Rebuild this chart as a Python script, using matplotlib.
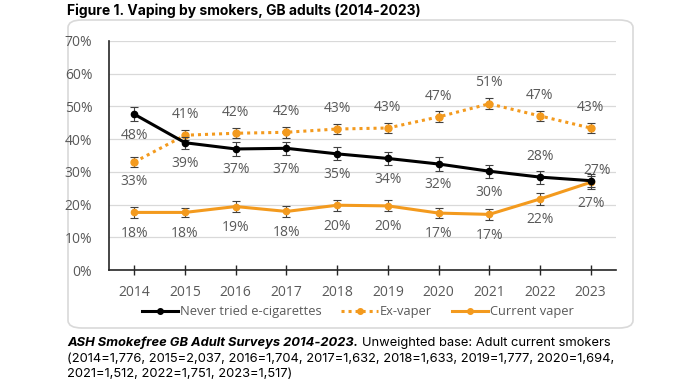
import matplotlib.pyplot as plt
from matplotlib.patches import FancyBboxPatch
from matplotlib.lines import Line2D
import numpy as np

years = ['2014', '2015', '2016', '2017', '2018', '2019', '2020', '2021', '2022', '2023']
never_tried = [47.6, 38.9, 37.0, 37.2, 35.5, 34.1, 32.4, 30.2, 28.4, 27.3]
ex_vaper = [33.0, 41.2, 41.8, 42.1, 43.1, 43.4, 46.8, 50.8, 47.1, 43.4]
current_vaper = [17.6, 17.6, 19.4, 17.9, 19.8, 19.6, 17.4, 17.0, 21.7, 26.8]
never_err = [2.1, 1.9, 2.0, 2.0, 2.0, 2.0, 2.0, 2.0, 2.0, 2.0]
ex_err = [1.5, 1.5, 1.6, 1.6, 1.6, 1.6, 1.7, 1.7, 1.6, 1.6]
cur_err = [1.6, 1.5, 1.7, 1.6, 1.7, 1.7, 1.6, 1.6, 1.7, 1.9]

never_lbl = ['48%', '39%', '37%', '37%', '35%', '34%', '32%', '30%', '28%', '27%']
ex_lbl = ['33%', '41%', '42%', '42%', '43%', '43%', '47%', '51%', '47%', '43%']
cur_lbl = ['18%', '18%', '19%', '18%', '20%', '20%', '17%', '17%', '22%', '27%']
series_names = ['Never tried e-cigarettes', 'Ex-vaper', 'Current vaper']

orange = '#F39A1E'
gray_txt = '#595959'
plt.rcParams['font.family'] = ['Open Sans', 'DejaVu Sans']

fig = plt.figure(figsize=(7, 3.8), dpi=100)
# rounded frame behind the chart
box = FancyBboxPatch((68 / 700, 1 - 328 / 380), (633 - 68) / 700, (328 - 20) / 380,
                     boxstyle='round,pad=0,rounding_size=0.02', transform=fig.transFigure,
                     fc='white', ec='#D9D9D9', lw=1.2, zorder=0)
fig.patches.append(box)

ax = fig.add_axes([109 / 700, 1 - 270 / 380, (616 - 109) / 700, (270 - 41) / 380])
ax.set_zorder(2)
ax.patch.set_alpha(0)
x = np.arange(len(years))

err_kw = dict(ecolor='#404040', elinewidth=0.8, capsize=3, capthick=0.8)
ax.errorbar(x, never_tried, yerr=never_err, color='black', lw=2.2, marker='o', ms=4.5,
            zorder=4, **err_kw)
ax.errorbar(x, ex_vaper, yerr=ex_err, color=orange, lw=2.2, ls=(0, (1, 1.3)), marker='o', ms=5,
            zorder=3, **err_kw)
ax.errorbar(x, current_vaper, yerr=cur_err, color=orange, lw=2.2, marker='o', ms=4.5,
            zorder=3, **err_kw)

lbl_kw = dict(ha='center', va='center', fontsize=10, color=gray_txt, textcoords='offset points')
for i in range(len(years)):
    # never tried: below, except the last two
    if i == 8:
        off = (0, 15)
    elif i == 9:
        off = (5, 7)
    else:
        off = (0, -15)
    ax.annotate(never_lbl[i], (x[i], never_tried[i]), xytext=off, **lbl_kw)
    dy = -14 if i == 0 else 15
    ax.annotate(ex_lbl[i], (x[i], ex_vaper[i]), xytext=(0, dy), **lbl_kw)
    ax.annotate(cur_lbl[i], (x[i], current_vaper[i]), xytext=(0, -15), **lbl_kw)

ax.set_xlim(-0.5, len(years) - 0.5)
ax.set_ylim(0, 70)
ax.set_yticks(np.arange(0, 71, 10))
ax.set_yticklabels([f'{v}%' for v in range(0, 71, 10)])
ax.set_xticks(x)
ax.set_xticklabels(years)
ax.yaxis.grid(True, color='#D9D9D9', lw=0.9)
ax.set_axisbelow(True)
for s in ['top', 'right']:
    ax.spines[s].set_visible(False)
for s in ['left', 'bottom']:
    ax.spines[s].set_color('#262626')
    ax.spines[s].set_linewidth(1.2)
ax.tick_params(axis='y', length=0, labelsize=10, labelcolor=gray_txt, pad=12)
ax.tick_params(axis='x', direction='inout', length=7, width=1, color='#262626',
               labelsize=10, labelcolor=gray_txt, pad=7)

handles = [
    Line2D([], [], color='black', lw=2.2, marker='o', ms=4),
    Line2D([], [], color=orange, lw=2.2, ls=(0, (1, 1.3)), marker='o', ms=4),
    Line2D([], [], color=orange, lw=2.2, marker='o', ms=4),
]
fig.legend(handles, series_names, loc='center', bbox_to_anchor=(358 / 700, 1 - 312 / 380),
           ncol=3, frameon=False, fontsize=9.3, labelcolor=gray_txt, handlelength=2.8,
           columnspacing=1.5, handletextpad=0.2)

fig.text(67 / 700, 1 - 11 / 380, 'Figure 1. Vaping by smokers, GB adults (2014-2023)',
         fontsize=10, fontweight='bold', family=['Inter', 'DejaVu Sans'], va='center', ha='left')

cap_y = 1 - 343 / 380
cap_font = ['Inter', 'DejaVu Sans']
t1 = fig.text(67 / 700, cap_y, 'ASH Smokefree GB Adult Surveys 2014-2023.', fontsize=9.3,
              fontweight='bold', style='italic', family=cap_font, va='center')
fig.canvas.draw()
bb = t1.get_window_extent()
fig.text(bb.x1 / 700 + 0.005, cap_y, 'Unweighted base: Adult current smokers', fontsize=9.3,
         family=cap_font, va='center')
fig.text(67 / 700, 1 - 359 / 380,
         '(2014=1,776, 2015=2,037, 2016=1,704, 2017=1,632, 2018=1,633, 2019=1,777, 2020=1,694,',
         fontsize=9.3, family=cap_font, va='center')
fig.text(67 / 700, 1 - 374 / 380, '2021=1,512, 2022=1,751, 2023=1,517)',
         fontsize=9.3, family=cap_font, va='center')

fig.savefig('out.png', dpi=100)
